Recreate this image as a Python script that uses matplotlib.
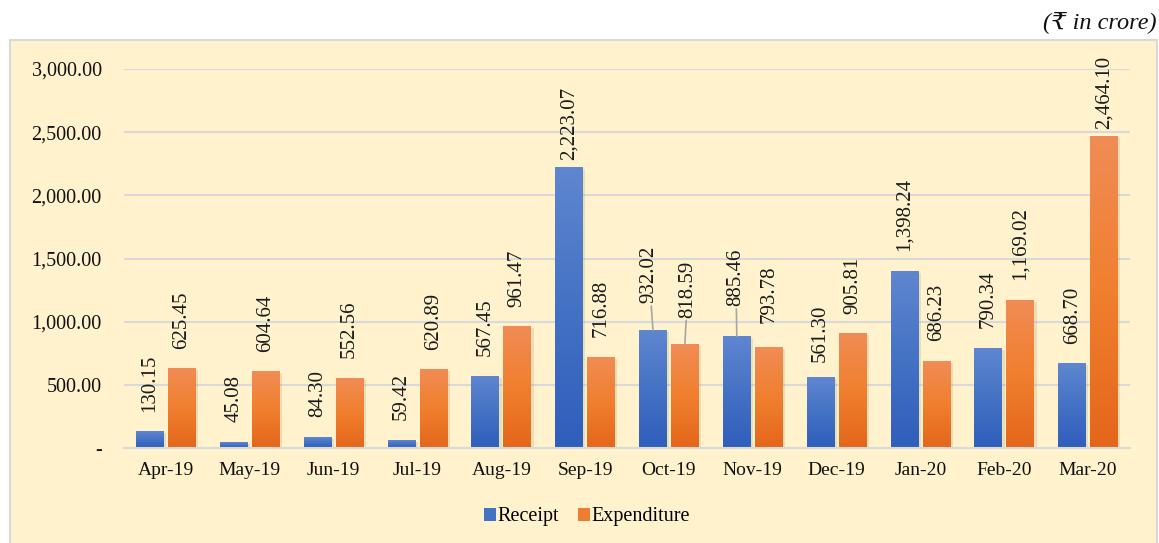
import numpy as np
import matplotlib
matplotlib.use('Agg')
import matplotlib.pyplot as plt
import matplotlib.transforms as mtransforms
from matplotlib.patches import Rectangle, Patch
from matplotlib.colors import LinearSegmentedColormap

months = ['Apr-19', 'May-19', 'Jun-19', 'Jul-19', 'Aug-19', 'Sep-19',
          'Oct-19', 'Nov-19', 'Dec-19', 'Jan-20', 'Feb-20', 'Mar-20']
receipt = [130.15, 45.08, 84.30, 59.42, 567.45, 2223.07,
           932.02, 885.46, 561.30, 1398.24, 790.34, 668.70]
expenditure = [625.45, 604.64, 552.56, 620.89, 961.47, 716.88,
               818.59, 793.78, 905.81, 686.23, 1169.02, 2464.10]
yticks = [0, 500, 1000, 1500, 2000, 2500, 3000]

plt.rcParams['font.family'] = ['Liberation Serif', 'DejaVu Serif']
W, H = 1159, 543
fig = plt.figure(figsize=(W / 100, H / 100), dpi=100)
fig.patch.set_facecolor('white')

# chart area background
bg = Rectangle((10 / W, -0.01), (1157 - 10) / W, (543 - 40) / H + 0.01,
               transform=fig.transFigure, facecolor='#FFF2CC',
               edgecolor='#D9D9D9', lw=1.5, zorder=-1)
fig.add_artist(bg)

ax = fig.add_axes([124 / W, 1 - 448 / H, (1130 - 124) / W, (448 - 69) / H])
ax.set_zorder(1)
ax.set_facecolor('none')

x = np.arange(len(months))
bw = 0.33
off = 0.19

blue_cm = LinearSegmentedColormap.from_list('b', ['#2F5EBC', '#4472C4', '#5F86D0'])
orange_cm = LinearSegmentedColormap.from_list('o', ['#E4661A', '#F07F2E', '#F18C55'])
grad = np.linspace(0, 1, 256).reshape(-1, 1)

shadow_tr = ax.transData + mtransforms.ScaledTranslation(2.5 / 100, -1.5 / 100, fig.dpi_scale_trans)


def draw_bars(xs, vals, cmap):
    bars = ax.bar(xs, vals, bw, color='none', zorder=2)
    for b in bars:
        x0, y0, w, h = b.get_x(), b.get_y(), b.get_width(), b.get_height()
        ax.add_patch(Rectangle((x0, y0), w, h, transform=shadow_tr,
                               facecolor='#7F6A3A', alpha=0.15, lw=0, zorder=1.5))
        ax.imshow(grad, extent=[x0, x0 + w, y0, y0 + h], origin='lower',
                  aspect='auto', cmap=cmap, zorder=2, interpolation='bicubic')


draw_bars(x - off, receipt, blue_cm)
draw_bars(x + off, expenditure, orange_cm)

ax.set_xlim(-0.5, len(months) - 0.5)
ax.set_ylim(0, 3000)

# data labels: (series, index) -> (dx px, gap px, leader)
special = {
    ('r', 5): (0, 7, False),
    ('e', 11): (0, 8, False),
    ('r', 6): (-4, 27, True),
    ('e', 6): (3, 27, True),
    ('r', 7): (-1, 30, True),
    ('e', 7): (0, 25, False),
    ('r', 8): (0, 15, False),
}


def add_labels(xs, vals, key):
    for i, (xc, v) in enumerate(zip(xs, vals)):
        dx, gap, leader = special.get((key, i), (0, 20, False))
        kw = {}
        if leader:
            kw['arrowprops'] = dict(arrowstyle='-', color='#A6A6A6', lw=1.2,
                                    shrinkA=0, shrinkB=0)
        ax.annotate(f'{v:,.2f}', xy=(xc, v), xytext=(dx, gap),
                    textcoords='offset pixels', rotation=90, ha='center',
                    va='bottom', fontsize=15, color='#1A1A1A',
                    annotation_clip=False, zorder=4, **kw)


add_labels(x - off, receipt, 'r')
add_labels(x + off, expenditure, 'e')

ax.set_yticks(yticks)
ax.set_yticklabels(['-' if v == 0 else f'{v:,.2f}' for v in yticks])
ax.set_xticks(x)
ax.set_xticklabels(months)
ax.tick_params(axis='y', length=0, pad=16, labelsize=14.5, labelcolor='#111111')
ax.tick_params(axis='x', length=0, pad=10, labelsize=14, labelcolor='#111111')
ax.yaxis.grid(True, color='#D9D9D9', lw=1.5, zorder=0)
ax.set_axisbelow(True)
for s in ['top', 'right', 'left']:
    ax.spines[s].set_visible(False)
ax.spines['bottom'].set_color('#D9D9D9')
ax.spines['bottom'].set_linewidth(1.5)

handles = [Patch(facecolor='#4472C4', label='Receipt'),
           Patch(facecolor='#ED7D31', label='Expenditure')]
fig.legend(handles=handles, loc='center', bbox_to_anchor=(587 / W, 1 - 517 / H),
           ncol=2, frameon=False, fontsize=14.5, handlelength=0.6,
           handleheight=0.6, handletextpad=0.1, columnspacing=0.9)

fig.text(1157 / W, 1 - 22 / H, '(₹ in crore)', ha='right', va='center',
         fontsize=17.5, style='italic', color='#111111')

fig.savefig('out.png', dpi=100)
